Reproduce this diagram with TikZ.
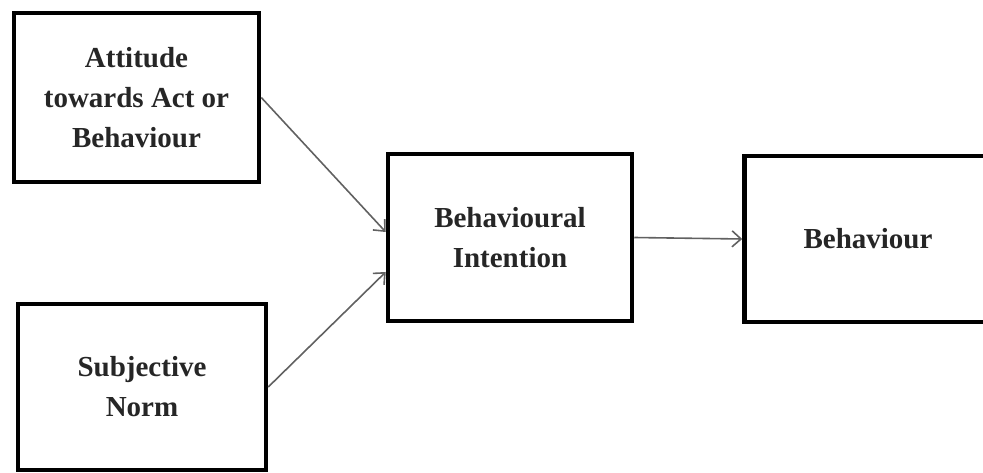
\documentclass[tikz,border=0pt]{standalone}
\usepackage{fontspec}
\setmainfont{Liberation Serif}
\usetikzlibrary{arrows.meta}
\begin{document}
\begin{tikzpicture}[x=1pt,y=-1pt,
  box/.style={draw=black, line width=4.5pt, fill=white, align=center, inner sep=0pt,
    font=\fontsize{29}{40}\selectfont\bfseries, text=black!85},
  link/.style={draw=black!62, line width=1.6pt, -{Straight Barb[length=9pt,width=16pt,line width=1.6pt]}}]
\useasboundingbox (0,0) rectangle (983,473);
\begin{scope}
\clip (0,0) rectangle (983,473);
\node[box, minimum width=245pt, minimum height=169pt] (att) at (136.5,97.5) {Attitude\\towards Act or\\Behaviour};
\node[box, minimum width=248pt, minimum height=166pt] (sub) at (142,387) {Subjective\\Norm};
\node[box, minimum width=244pt, minimum height=167pt] (bi) at (510,237.5) {Behavioural\\Intention};
\node[box, minimum width=263pt, minimum height=166pt] (beh) at (876,239) {\hspace*{-16pt}Behaviour};
\draw[link] (att.east) -- ([yshift=5.5pt]bi.west);
\draw[link] (sub.east) -- ([yshift=-34.5pt]bi.west);
\draw[link] (bi.east) -- (beh.west);
\end{scope}
\end{tikzpicture}
\end{document}
